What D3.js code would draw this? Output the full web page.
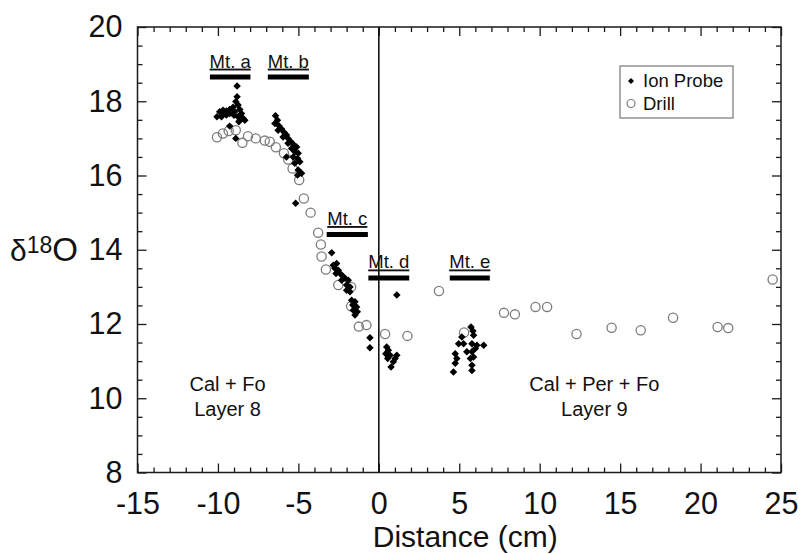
<!DOCTYPE html>
<html>
<head>
<meta charset="utf-8">
<script src="https://cdn.jsdelivr.net/npm/d3@7/dist/d3.min.js"></script>
<style>
  html, body { margin: 0; padding: 0; background: #fff; }
  svg { display: block; font-family: "Liberation Sans", Arial, Helvetica, sans-serif; }
</style>
</head>
<body>
<svg id="chart" width="802" height="554"></svg>
<script>
// Ion probe δ18O measurements (distance cm, δ18O)
const ionProbe = [
  // Mt. a
  [-8.81,18.41],[-8.81,18.12],[-8.89,17.99],[-8.75,17.90],[-9.06,17.84],[-9.27,17.78],
  [-9.47,17.74],[-9.68,17.76],[-9.89,17.72],[-10.06,17.58],[-9.78,17.58],[-9.47,17.63],
  [-9.27,17.67],[-8.96,17.72],[-8.64,17.78],[-8.54,17.67],[-8.44,17.54],[-8.75,17.58],
  [-8.64,17.49],[-8.33,17.49],[-9.27,17.33],[-8.89,17.00],[-8.70,17.45],[-9.00,17.62],
  [-9.60,17.68],
  // Mt. b
  [-6.42,17.61],[-6.30,17.49],[-6.46,17.40],[-6.21,17.34],[-6.05,17.25],[-6.26,17.22],
  [-5.88,17.16],[-5.74,17.09],[-5.95,17.04],[-5.64,17.00],[-5.47,16.91],[-5.64,16.87],
  [-5.32,16.84],[-5.11,16.77],[-5.42,16.73],[-5.22,16.64],[-5.01,16.60],[-5.32,16.50],
  [-5.74,16.50],[-5.05,16.46],[-4.91,16.37],[-5.22,16.33],[-5.01,16.15],[-4.80,16.06],
  [-5.05,16.01],[-5.17,15.25],
  // Mt. c
  [-2.93,13.92],[-2.83,13.58],[-2.62,13.63],[-2.73,13.50],[-2.52,13.45],[-2.41,13.36],
  [-2.66,13.36],[-2.25,13.29],[-2.10,13.23],[-1.90,13.18],[-2.31,13.18],[-2.00,13.05],
  [-1.79,13.00],[-2.00,12.91],[-1.79,12.87],[-1.69,12.64],[-1.48,12.60],[-1.62,12.51],
  [-1.38,12.46],[-1.59,12.37],[-1.34,12.33],[-1.48,12.24],[-0.55,11.63],[-0.55,11.36],
  // Mt. d
  [1.12,12.78],[0.49,11.38],[0.59,11.29],[0.43,11.20],[0.70,11.16],[1.12,11.16],
  [1.01,11.07],[0.55,11.07],[0.90,10.98],[0.76,10.84],
  // Mt. e
  [5.73,11.92],[5.85,11.81],[5.16,11.65],[5.89,11.70],[4.96,11.47],[5.27,11.47],
  [5.79,11.47],[6.10,11.43],[6.52,11.43],[5.47,11.25],[5.79,11.25],[6.00,11.34],
  [4.75,11.20],[4.85,11.07],[5.69,11.07],[5.89,11.11],[4.75,10.94],[5.79,10.89],
  [4.64,10.71],[5.79,10.75]
];

// Drilled-sample δ18O values (distance cm, δ18O)
const drill = [
  [-10.06,17.03],[-9.69,17.13],[-9.33,17.20],[-8.89,17.22],[-8.48,16.88],[-8.13,17.06],
  [-7.65,17.00],[-7.09,16.94],[-6.78,16.91],[-6.40,16.76],[-5.90,16.60],[-5.63,16.43],
  [-5.36,16.19],[-4.95,15.88],[-4.66,15.38],[-4.24,15.00],[-3.77,14.46],[-3.60,14.14],
  [-3.56,13.82],[-3.29,13.47],[-2.52,13.05],[-1.72,13.00],[-1.72,12.48],[-1.24,11.93],
  [-0.77,11.97],[0.39,11.73],[1.78,11.68],[3.74,12.89],[5.30,11.77],[7.78,12.30],
  [8.46,12.26],[9.74,12.46],[10.46,12.46],[12.29,11.73],[14.47,11.90],[16.28,11.83],
  [18.29,12.17],[21.06,11.92],[21.72,11.89],[24.48,13.20]
];

// Traverse segments (Mt. a – Mt. e): name, start, end, level
const mountNames = ["Mt. a", "Mt. b", "Mt. c", "Mt. d", "Mt. e"];
const mountStart = [-10.5, -6.9, -3.24, -0.65, 4.41];
const mountEnd   = [-7.98, -4.35, -0.68, 1.89, 6.90];
const mountLevel = [18.65, 18.65, 14.41, 13.24, 13.24];

// Axis ticks
const xMajor = [-15, -10, -5, 0, 5, 10, 15, 20, 25];
const yMajor = [8, 10, 12, 14, 16, 18, 20];

// Zone annotations
const zoneLines = [["Cal + Fo", "Layer 8"], ["Cal + Per + Fo", "Layer 9"]];
const zoneX = [-9.4, 13.4];
const zoneY = [10.2, 10.2];

const svg = d3.select("#chart");
const m = { left: 137.5, right: 781, top: 27, bottom: 472.5 };

const x = d3.scaleLinear().domain([-15, 25]).range([m.left, m.right]);
const y = d3.scaleLinear().domain([8, 20]).range([m.bottom, m.top]);

const xMinor = d3.range(-15, 25.001, 1).filter(v => !xMajor.includes(v));
const yMinor = d3.range(8, 20.001, 0.5).filter(v => !yMajor.includes(v));

const axisColor = "#1a1a1a";
const major = 9, minor = 5;
const plain = d => String(d);   // keep an ASCII hyphen for negatives

function styleAxis(g) {
  g.select(".domain").remove();
  g.selectAll(".tick line").attr("stroke", axisColor).attr("stroke-width", 1.3);
  g.selectAll(".tick text").attr("fill", "#111")
    .style("font-family", '"Liberation Sans", Arial, sans-serif')
    .style("font-size", "30.5px");
}

// bottom axis with labels
svg.append("g").attr("transform", `translate(0,${m.bottom})`)
  .call(d3.axisBottom(x).tickValues(xMajor).tickSize(-major).tickPadding(20).tickFormat(plain))
  .call(styleAxis);
svg.append("g").attr("transform", `translate(0,${m.bottom})`)
  .call(d3.axisBottom(x).tickValues(xMinor).tickSize(-minor).tickFormat(""))
  .call(styleAxis);
// top axis
svg.append("g").attr("transform", `translate(0,${m.top})`)
  .call(d3.axisTop(x).tickValues(xMajor).tickSize(-major).tickFormat(""))
  .call(styleAxis);
svg.append("g").attr("transform", `translate(0,${m.top})`)
  .call(d3.axisTop(x).tickValues(xMinor).tickSize(-minor).tickFormat(""))
  .call(styleAxis);
// left axis with labels
svg.append("g").attr("transform", `translate(${m.left},0)`)
  .call(d3.axisLeft(y).tickValues(yMajor).tickSize(-major).tickPadding(15).tickFormat(plain))
  .call(styleAxis);
svg.append("g").attr("transform", `translate(${m.left},0)`)
  .call(d3.axisLeft(y).tickValues(yMinor).tickSize(-minor).tickFormat(""))
  .call(styleAxis);
// right axis
svg.append("g").attr("transform", `translate(${m.right},0)`)
  .call(d3.axisRight(y).tickValues(yMajor).tickSize(-major).tickFormat(""))
  .call(styleAxis);
svg.append("g").attr("transform", `translate(${m.right},0)`)
  .call(d3.axisRight(y).tickValues(yMinor).tickSize(-minor).tickFormat(""))
  .call(styleAxis);

// frame
svg.append("rect")
  .attr("x", m.left).attr("y", m.top)
  .attr("width", m.right - m.left).attr("height", m.bottom - m.top)
  .attr("fill", "none").attr("stroke", axisColor).attr("stroke-width", 1.5);

// layer boundary at 0 cm
svg.append("line")
  .attr("x1", x(0)).attr("x2", x(0)).attr("y1", m.top).attr("y2", m.bottom)
  .attr("stroke", "#111").attr("stroke-width", 1.6);

// drill samples
svg.append("g").selectAll("circle").data(drill).join("circle")
  .attr("cx", d => x(d[0])).attr("cy", d => y(d[1])).attr("r", 4.6)
  .attr("fill", "none").attr("stroke", "#7c7c7c").attr("stroke-width", 1.3);

// ion probe spots
const diamond = d3.symbol(d3.symbolSquare, 28);
svg.append("g").selectAll("path").data(ionProbe).join("path")
  .attr("d", diamond)
  .attr("transform", d => `translate(${x(d[0])},${y(d[1])}) rotate(45)`)
  .attr("fill", "#000");

// traverse labels and bars
const mounts = svg.append("g");
mountNames.forEach((name, i) => {
  const cx = (x(mountStart[i]) + x(mountEnd[i])) / 2;
  const by = y(mountLevel[i]);
  mounts.append("line")
    .attr("x1", x(mountStart[i])).attr("x2", x(mountEnd[i]))
    .attr("y1", by).attr("y2", by)
    .attr("stroke", "#000").attr("stroke-width", 5);
  mounts.append("text")
    .attr("x", cx).attr("y", by - 9.5)
    .attr("text-anchor", "middle")
    .style("font-size", "18.5px")
    .style("text-decoration", "underline")
    .attr("fill", "#111")
    .text(name);
});

// zone annotations
zoneLines.forEach((lines, i) => {
  const t = svg.append("text")
    .attr("x", x(zoneX[i])).attr("y", y(zoneY[i]))
    .attr("text-anchor", "middle").style("font-size", "20px").attr("fill", "#111");
  lines.forEach((ln, j) => {
    t.append("tspan").attr("x", x(zoneX[i])).attr("dy", j === 0 ? 0 : 25).text(ln);
  });
});

// legend
const lg = svg.append("g").attr("transform", "translate(620,66)");
lg.append("rect").attr("width", 113).attr("height", 52)
  .attr("fill", "#fff").attr("stroke", "#777").attr("stroke-width", 1.2);
lg.append("path").attr("d", d3.symbol(d3.symbolSquare, 18))
  .attr("transform", "translate(11,15) rotate(45)").attr("fill", "#000");
lg.append("circle").attr("cx", 11).attr("cy", 37.5).attr("r", 4)
  .attr("fill", "none").attr("stroke", "#7c7c7c").attr("stroke-width", 1.2);
lg.append("text").attr("x", 23).attr("y", 21).style("font-size", "18.5px").attr("fill", "#111").text("Ion Probe");
lg.append("text").attr("x", 23).attr("y", 44).style("font-size", "18.5px").attr("fill", "#111").text("Drill");

// axis titles
svg.append("text")
  .attr("x", (m.left + m.right) / 2 + 6).attr("y", 547)
  .attr("text-anchor", "middle").style("font-size", "30px").attr("fill", "#111")
  .text("Distance (cm)");

const yl = svg.append("text").attr("x", 10).attr("y", y(14) + 11)
  .style("font-size", "30px").attr("fill", "#111");
yl.append("tspan").text("δ");
yl.append("tspan").attr("dy", -8).style("font-size", "23px").text("18");
yl.append("tspan").attr("dy", 8).style("font-size", "33px").text("O");
</script>
</body>
</html>
